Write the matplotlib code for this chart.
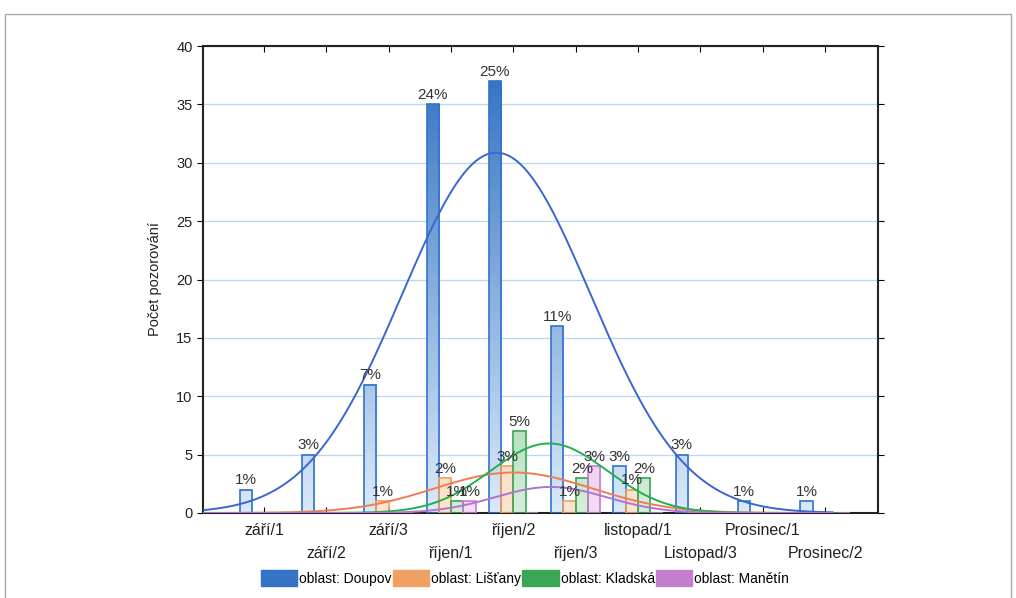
import numpy as np
import matplotlib.pyplot as plt
from matplotlib.patches import Rectangle, Patch
from matplotlib.colors import LinearSegmentedColormap

plt.rcParams['font.family'] = ['Liberation Sans', 'DejaVu Sans']

categories = ['září/1', 'září/2', 'září/3', 'říjen/1', 'říjen/2', 'říjen/3',
              'listopad/1', 'Listopad/3', 'Prosinec/1', 'Prosinec/2']
doupov = [2, 5, 11, 35, 37, 16, 4, 5, 1, 1]
listany = [0, 0, 1, 3, 4, 1, 2, 0, 0, 0]
kladska = [0, 0, 0, 1, 7, 3, 3, 0, 0, 0]
manetin = [0, 0, 0, 1, 0, 4, 0, 0, 0, 0]
series_names = ['oblast: Doupov', 'oblast: Lišťany', 'oblast: Kladská', 'oblast: Manětín']

# edge, light fill, dark fill, curve colour
styles = [
    ('#2e74cc', '#dbe9f8', '#3574c4', '#3a66d0'),
    ('#f0a060', '#fbe6d2', '#f0a060', '#f07c55'),
    ('#3aa655', '#d6eedb', '#3aa655', '#22b04c'),
    ('#c47fcc', '#f6dcf6', '#c47fcc', '#b074d4'),
]

data = [doupov, listany, kladska, manetin]
total = sum(sum(s) for s in data)
x = np.arange(len(categories))
w = 0.197

fig = plt.figure(figsize=(10.16, 5.98), dpi=100)
ax = fig.add_axes([203 / 1016, 1 - 513 / 598, 675 / 1016, 467 / 598])

ax.set_xlim(-0.98, 9.85)
ax.set_ylim(0, 40)

for k, vals in enumerate(data):
    edge, light, dark, curve = styles[k]
    cmap = LinearSegmentedColormap.from_list('g%d' % k, [light, dark])
    offs = (k - 1.5) * w
    bars = ax.bar(x + offs, vals, width=w, facecolor='none', edgecolor=edge,
                  linewidth=1.2, zorder=3)
    for b, v in zip(bars, vals):
        if v <= 0:
            continue
        x0 = b.get_x()
        grad = np.linspace(0, v, 60).reshape(-1, 1)
        ax.imshow(grad, extent=(x0, x0 + w, 0, v), origin='lower', cmap=cmap,
                  vmin=0, vmax=38, aspect='auto', zorder=2)
        ax.text(x0 + w / 2, v + 0.2, '%d%%' % round(100 * v / total),
                ha='center', va='bottom', fontsize=11, color='#333333', zorder=5)

    # fitted normal curve
    vals_a = np.array(vals, dtype=float)
    n = vals_a.sum()
    mu = (x * vals_a).sum() / n
    sd = np.sqrt(((x - mu) ** 2 * vals_a).sum() / (n - 1))
    xs = np.linspace(-0.98, 9.12, 400)
    ys = n / (sd * np.sqrt(2 * np.pi)) * np.exp(-0.5 * ((xs - mu) / sd) ** 2)
    ax.plot(xs, ys, color=curve, linewidth=1.4, zorder=4)

ax.set_yticks(np.arange(0, 41, 5))
ax.yaxis.grid(True, color='#b9d7ee', linewidth=0.9)
ax.set_axisbelow(True)
ax.set_xticks(x)
ax.set_xticklabels([])
# category labels staggered on two rows
for i, c in enumerate(categories):
    ax.text(i, -0.037 if i % 2 == 0 else -0.086, c, transform=ax.get_xaxis_transform(),
            ha='center', va='center', fontsize=11.5, color='#222222')
ax.tick_params(axis='x', direction='in', length=4, top=True)
ax.tick_params(axis='y', direction='out', length=4, labelsize=10.5, right=True,
               labelcolor='#222222')
ax.set_ylabel('Počet pozorování', fontsize=10.5, color='#222222', labelpad=10)
for s in ax.spines.values():
    s.set_linewidth(1.5)
    s.set_color('#222222')

handles = [Patch(facecolor=st[2], edgecolor=st[0], linewidth=1) for st in styles]
fig.legend(handles, series_names, loc='center', bbox_to_anchor=(525 / 1016, 1 - 578 / 598),
           ncol=4, frameon=False, fontsize=10, handlelength=2.6, handleheight=1.4,
           handletextpad=0.15, columnspacing=0.1)

fig.patches.append(Rectangle((5 / 1016, -0.1), 1006 / 1016, 1.1 - 14 / 598,
                             transform=fig.transFigure, fill=False,
                             edgecolor='#aaaaaa', linewidth=1))

fig.savefig('out.png', dpi=100)
